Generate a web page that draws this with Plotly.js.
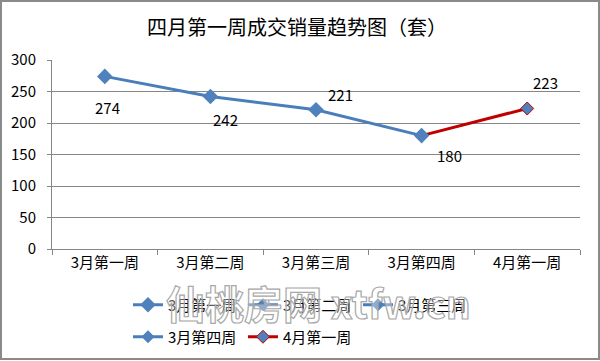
<!DOCTYPE html>
<html>
<head>
<meta charset="utf-8">
<script src="https://cdn.plot.ly/plotly-3.0.1.min.js"></script>
<style>html,body{margin:0;padding:0;background:#fff;}#chart{width:600px;height:361px;}</style>
</head>
<body>
<div id="chart"></div>
<script>
// ---- data ----
const categories = ['3月第一周', '3月第二周', '3月第三周', '3月第四周', '4月第一周'];
const sales = [274, 242, 221, 180, 223];
const legendNames = ['3月第一周', '3月第二周', '3月第三周', '3月第四周', '4月第一周'];
const chartTitle = '四月第一周成交销量趋势图（套）';
const watermark = '仙桃房网 xtfw.cn';

// ---- styles ----
const BLUE = '#4a7ebb';
const MARKER_BLUE = '#4f81bd';
const RED = '#c00000';
const FONT = '"Noto Sans CJK SC", "Noto Sans", sans-serif';
const labelShift = [[3, -31], [15, -23], [24, 15], [28, -20], [18, 26]];

const blueX = categories.slice(0, 4);
const blueY = sales.slice(0, 4);
const redX = categories.slice(3);
const redY = sales.slice(3);

const traces = [
  { // red segment (drawn first so the blue marker sits on top)
    type: 'scatter', mode: 'lines+markers', x: redX, y: redY,
    name: legendNames[4], legend: 'legend2', legendrank: 2,
    line: { color: RED, width: 3 },
    marker: { symbol: 'diamond', size: 10, color: MARKER_BLUE, line: { color: RED, width: 1 } },
    hoverinfo: 'skip'
  },
  {
    type: 'scatter', mode: 'lines+markers', x: blueX, y: blueY,
    name: legendNames[0], legend: 'legend', legendrank: 1,
    line: { color: BLUE, width: 3 },
    marker: { symbol: 'diamond', size: 12, color: MARKER_BLUE },
    hoverinfo: 'skip'
  }
];
// legend-only entries for the remaining weeks
[1, 2, 3].forEach(function (i) {
  traces.push({
    type: 'scatter', mode: 'lines+markers', x: [categories[i]], y: [null],
    name: legendNames[i], legend: i === 3 ? 'legend2' : 'legend', legendrank: i === 3 ? 1 : i + 1,
    line: { color: BLUE, width: 3 },
    marker: { symbol: 'diamond', size: 10, color: MARKER_BLUE },
    hoverinfo: 'skip'
  });
});

const annotations = sales.map(function (v, i) {
  return {
    x: categories[i], y: v, xref: 'x', yref: 'y', text: String(v), showarrow: false,
    xshift: labelShift[i][0], yshift: labelShift[i][1],
    font: { family: FONT, size: 15, color: '#000' }
  };
});
annotations.push({
  xref: 'paper', yref: 'paper', x: 0.504, y: (249 - 302) / 189, xanchor: 'center', yanchor: 'middle',
  text: watermark, showarrow: false,
  font: { family: FONT, size: 39, color: 'rgba(255,255,255,0.35)', weight: 700 }
});

const legendCommon = {
  orientation: 'h', xref: 'container', yref: 'container', xanchor: 'left', yanchor: 'middle',
  font: { family: FONT, size: 15, color: '#000' }, bgcolor: 'rgba(0,0,0,0)',
  entrywidth: 70, entrywidthmode: 'pixels', traceorder: 'normal'
};

const layout = {
  width: 600, height: 361,
  margin: { l: 52, r: 20, t: 60, b: 112 },
  paper_bgcolor: '#fff', plot_bgcolor: '#fff',
  font: { family: FONT, size: 13, color: '#000' },
  title: {
    text: chartTitle, x: 0.495, xref: 'container', xanchor: 'center',
    y: 1 - 28 / 361, yref: 'container', yanchor: 'middle',
    font: { family: FONT, size: 20, color: '#000' }
  },
  xaxis: {
    type: 'category', categoryarray: categories, range: [-0.5, 4.5],
    showline: true, linecolor: '#868686', linewidth: 1,
    ticks: 'outside', tickson: 'boundaries', ticklen: 5, tickcolor: '#868686',
    showgrid: false, zeroline: false,
    tickfont: { family: FONT, size: 15, color: '#000' }, fixedrange: true
  },
  yaxis: {
    range: [0, 300], dtick: 50, tick0: 0,
    showline: true, linecolor: '#868686', linewidth: 1,
    ticks: 'outside', ticklen: 4, tickcolor: '#868686', ticklabelstandoff: 8,
    showgrid: true, gridcolor: '#868686', gridwidth: 1, zeroline: false,
    tickfont: { family: FONT, size: 15, color: '#000' }, fixedrange: true
  },
  legend: Object.assign({}, legendCommon, { x: 0.2133, y: 1 - 305 / 361 }),
  legend2: Object.assign({}, legendCommon, { x: 0.2133, y: 1 - 337 / 361 }),
  annotations: annotations,
  shapes: [{
    type: 'rect', xref: 'paper', yref: 'paper',
    x0: (1 - 52) / 528, x1: (599 - 52) / 528,
    y0: (249 - 359) / 189, y1: (249 - 1) / 189,
    line: { color: '#8a8a8a', width: 2 }, fillcolor: 'rgba(0,0,0,0)', layer: 'below'
  }],
  showlegend: true
};

Plotly.newPlot('chart', traces, layout, { displayModeBar: false, staticPlot: true }).then(function () {
  document.querySelectorAll('.annotation-text').forEach(function (t) {
    if (t.textContent === watermark) {
      t.style.stroke = '#a8a8a8';
      t.style.strokeWidth = '1.2px';
    }
  });
});
</script>
</body>
</html>
